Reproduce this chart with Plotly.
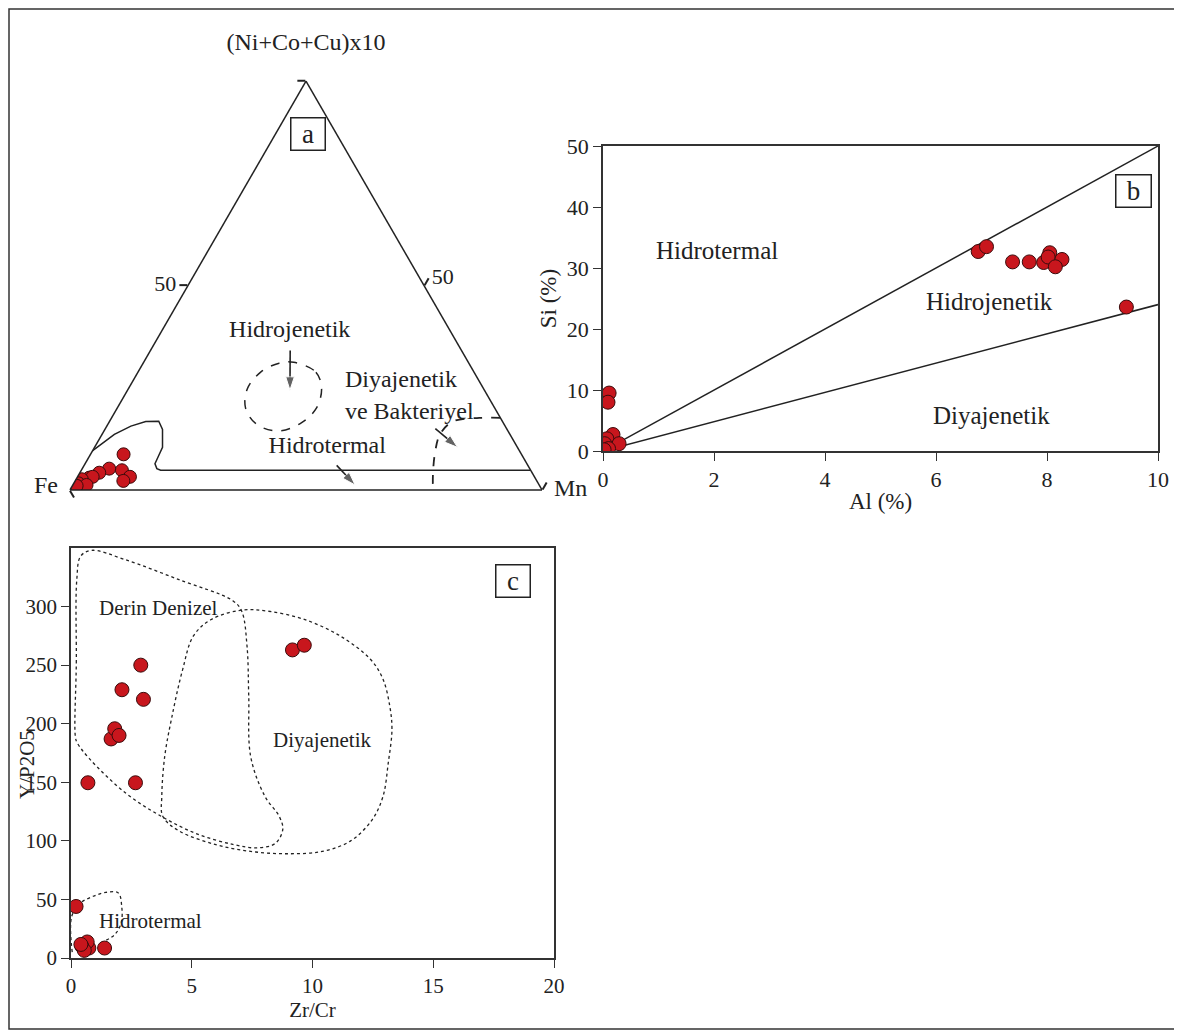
import plotly.graph_objects as go

# Figure size; the page adds an 8px body margin, so pixel targets are shifted by OFF.
FW, FH = 1174, 1025
OFF = 8
FONT = "Liberation Serif, Times New Roman, serif"
INK = "#222222"
RED = "#c8161d"
EDGE = "#3a0c0c"


def px_x(x):
    return (x - OFF) / FW


def px_y(y):
    return 1 - (y - OFF) / FH


# ---------------- Panel a : ternary (Ni+Co+Cu)x10 - Fe - Mn ----------------
tern_ncc = [8.7, 5.2, 4.2, 4.8, 3.2, 2.2, 3.0, 3.2, 2.6, 1.6, 1.2, 1.0]
tern_fe = [84.3, 89.1, 91.7, 86.6, 85.7, 87.6, 94.4, 93.6, 96.2, 97.4, 95.9, 98.1]
tern_mn = [7.0, 5.7, 4.1, 8.6, 11.1, 10.2, 2.6, 3.2, 1.2, 1.0, 2.9, 0.9]

hydro_ncc = [9.6, 13.6, 15.6, 16.7, 16.8, 14.8, 10.4, 8.4, 6.4, 5.2, 4.8, 4.8]
hydro_fe = [90.4, 83.8, 79.3, 75.6, 72.8, 73.0, 75.2, 77.0, 78.8, 79.0, 78.4, 0.0]
hydro_mn = [0.0, 2.6, 5.1, 7.7, 10.4, 12.2, 14.4, 14.6, 14.8, 15.8, 16.8, 95.2]

hgen_ncc = [31.2, 28.8, 24.8, 20.0, 16.4, 14.4, 16.0, 20.0, 24.8, 28.8, 31.0, 31.2]
hgen_fe = [37.0, 33.5, 34.3, 37.8, 42.8, 48.5, 52.4, 52.8, 50.0, 45.2, 40.2, 37.0]
hgen_mn = [31.8, 37.7, 40.9, 42.2, 40.8, 37.1, 31.6, 27.2, 25.2, 26.0, 28.8, 31.8]

diag_ncc = [17.6, 17.6, 16.7, 13.6, 9.6, 4.0, 0.0]
diag_fe = [0.0, 4.5, 10.6, 14.8, 17.8, 21.1, 23.1]
diag_mn = [82.4, 77.9, 72.7, 71.6, 72.6, 74.9, 76.9]

# arrows: [start, end]
arr_hgen = ([34.1, 24.4], [36.3, 41.2], [29.6, 34.4])
arr_hter = ([6.0, 1.2], [40.5, 39.0], [53.5, 59.8])
arr_diag = ([15.0, 10.4], [15.1, 12.7], [69.9, 76.9])

lab_a_text = ["Hidrojenetik", "Hidrotermal"]
lab_a_ncc = [38.9, 10.4]
lab_a_fe = [34.0, 40.3]
lab_a_mn = [27.1, 49.3]
lab_diag = ([22.7], [30.4], [46.9])

# ---------------- Panel b : Al vs Si ----------------
al_vals = [6.76, 6.91, 7.38, 7.68, 7.94, 8.05, 8.02, 8.27, 8.15, 9.43,
           0.11, 0.09, 0.18, 0.07, 0.29, 0.03, 0.10, 0.02]
si_vals = [32.7, 33.5, 31.0, 31.0, 30.9, 32.5, 31.8, 31.4, 30.2, 23.6,
           9.5, 8.0, 2.7, 2.0, 1.2, 1.2, 0.4, 0.2]
line_al = [0, 10]
line1_si = [0, 50]
line2_si = [0, 24]
b_labels = ["Hidrotermal", "Hidrojenetik", "Diyajenetik"]
b_lab_x = [2.06, 6.97, 7.0]
b_lab_y = [32.9, 24.5, 5.85]

# ---------------- Panel c : Zr/Cr vs Y/P2O5 ----------------
zrcr = [0.21, 0.70, 2.67, 1.66, 1.81, 1.99, 2.11, 2.89, 3.0, 9.17, 9.66,
        1.39, 0.74, 0.67, 0.45, 0.55, 0.41]
yp2o5 = [44, 149.6, 149.6, 187, 195.7, 190, 229, 250, 220.8, 263, 267,
         8.5, 8.5, 13.7, 10, 6.5, 11.6]

deep_x = [0.18, 0.22, 0.24, 0.40, 0.85, 2.25, 4.47, 6.7, 7.07, 7.29, 7.36, 7.44,
          8.03, 8.62, 8.77, 8.47, 7.73, 6.7, 5.21, 3.73, 2.25, 0.77, 0.25, 0.18]
deep_y = [189, 252, 323, 343, 348, 340, 323, 305, 296, 266, 224, 172,
          138, 121, 110, 98, 94, 97, 106, 121, 141, 170, 184, 189]
diag_x = [7.07, 8.18, 9.66, 11.14, 12.4, 12.92, 13.2, 13.29, 13.14, 12.92, 12.47,
          11.58, 10.4, 8.92, 7.44, 5.96, 4.47, 3.8, 3.76, 3.88, 4.18, 4.62, 5.07, 5.81, 7.07]
diag_y = [297, 296, 289, 275, 255, 238, 215, 195, 167, 138, 118,
          100, 91, 89, 91, 97, 108.5, 121, 138, 172, 206, 246, 275, 289, 297]
hterm_x = [0.05, 0.03, 0.4, 0.92, 1.44, 1.96, 2.1, 2.08, 1.81, 1.36]
hterm_y = [5, 35.5, 47, 52.7, 56, 55.5, 44, 30, 20, 14.2]
c_labels = ["Derin Denizel", "Diyajenetik", "Hidrotermal"]
c_lab_x = [3.62, 10.4, 3.29]
c_lab_y = [299, 186, 31.3]

fig = go.Figure()

# ---- ternary traces
fig.add_trace(go.Scatterternary(a=hydro_ncc, b=hydro_fe, c=hydro_mn, mode="lines",
                                line=dict(color=INK, width=1.5), showlegend=False, hoverinfo="skip"))
fig.add_trace(go.Scatterternary(a=hgen_ncc, b=hgen_fe, c=hgen_mn, mode="lines",
                                line=dict(color=INK, width=1.5, dash="dash", shape="spline"),
                                showlegend=False, hoverinfo="skip"))
fig.add_trace(go.Scatterternary(a=diag_ncc, b=diag_fe, c=diag_mn, mode="lines",
                                line=dict(color=INK, width=1.8, dash="dash", shape="spline"),
                                showlegend=False, hoverinfo="skip"))
for arr in (arr_hgen, arr_hter, arr_diag):
    fig.add_trace(go.Scatterternary(a=arr[0], b=arr[1], c=arr[2], mode="lines+markers",
                                    line=dict(color=INK, width=1.6),
                                    marker=dict(symbol=["circle", "arrow"], size=[0, 14],
                                                angleref="previous", color=INK),
                                    showlegend=False, hoverinfo="skip"))
fig.add_trace(go.Scatterternary(a=lab_a_ncc, b=lab_a_fe, c=lab_a_mn, mode="text",
                                text=lab_a_text, textposition="middle center",
                                textfont=dict(family=FONT, size=24, color=INK),
                                showlegend=False, hoverinfo="skip"))
fig.add_trace(go.Scatterternary(a=lab_diag[0], b=lab_diag[1], c=lab_diag[2], mode="text",
                                text=["Diyajenetik<br>ve Bakteriyel"], textposition="middle right",
                                textfont=dict(family=FONT, size=24, color=INK),
                                showlegend=False, hoverinfo="skip"))
fig.add_trace(go.Scatterternary(a=tern_ncc, b=tern_fe, c=tern_mn, mode="markers",
                                marker=dict(size=13, color=RED, line=dict(color=EDGE, width=1)),
                                showlegend=False))

# ---- panel b traces
for ys in (line1_si, line2_si):
    fig.add_trace(go.Scatter(x=line_al, y=ys, mode="lines", line=dict(color=INK, width=1.5),
                             xaxis="x2", yaxis="y2", showlegend=False, hoverinfo="skip"))
fig.add_trace(go.Scatter(x=al_vals, y=si_vals, mode="markers", xaxis="x2", yaxis="y2",
                         marker=dict(size=14, color=RED, line=dict(color=EDGE, width=1)),
                         showlegend=False))

# ---- panel c traces
for xs, ys in ((deep_x, deep_y), (diag_x, diag_y), (hterm_x, hterm_y)):
    fig.add_trace(go.Scatter(x=xs, y=ys, mode="lines", xaxis="x3", yaxis="y3",
                             line=dict(color=INK, width=1.3, dash="dot", shape="spline"),
                             showlegend=False, hoverinfo="skip"))
fig.add_trace(go.Scatter(x=zrcr, y=yp2o5, mode="markers", xaxis="x3", yaxis="y3",
                         marker=dict(size=14, color=RED, line=dict(color=EDGE, width=1)),
                         showlegend=False))

tern_axis = dict(linecolor=INK, linewidth=1.5, showgrid=False, ticks="outside", ticklen=8,
                 tickcolor=INK, tickwidth=1.5, tickfont=dict(family=FONT, size=22, color=INK),
                 min=0)

cart_axis = dict(showline=True, mirror=True, linecolor="#333333", linewidth=1.6,
                 ticks="outside", ticklen=8, tickwidth=1.4, tickcolor="#333333",
                 showgrid=False, zeroline=False, automargin=False)

annotations = []
for t, x, y in zip(b_labels, b_lab_x, b_lab_y):
    annotations.append(dict(text=t, x=x, y=y, xref="x2", yref="y2", showarrow=False,
                            xanchor="center", yanchor="middle",
                            font=dict(family=FONT, size=25, color=INK)))
for t, x, y in zip(c_labels, c_lab_x, c_lab_y):
    annotations.append(dict(text=t, x=x, y=y, xref="x3", yref="y3", showarrow=False,
                            xanchor="center", yanchor="middle",
                            font=dict(family=FONT, size=21, color=INK)))
box = dict(showarrow=False, xanchor="center", yanchor="middle", bordercolor=INK,
           borderwidth=1.5, borderpad=0, font=dict(family=FONT, size=27, color=INK))
annotations.append(dict(box, text="a", x=px_x(308), y=px_y(134), xref="paper", yref="paper",
                        width=33, height=31))
annotations.append(dict(box, text="b", x=9.56, y=42.6, xref="x2", yref="y2", width=34, height=31))
annotations.append(dict(box, text="c", x=18.3, y=322, xref="x3", yref="y3", width=33, height=31))
annotations.append(dict(text="Fe", x=px_x(46), y=px_y(485), xref="paper", yref="paper",
                        xanchor="center", yanchor="middle", showarrow=False,
                        font=dict(family=FONT, size=24, color=INK)))
annotations.append(dict(text="Mn", x=px_x(570), y=px_y(488), xref="paper", yref="paper",
                        xanchor="center", yanchor="middle", showarrow=False,
                        font=dict(family=FONT, size=24, color=INK)))
annotations.append(dict(text="Y/P2O5", x=px_x(27), y=px_y(765), xref="paper", yref="paper",
                        xanchor="center", yanchor="middle", showarrow=False, textangle=-90,
                        font=dict(family=FONT, size=21, color=INK)))

fig.update_layout(
    width=FW, height=FH,
    margin=dict(l=0, r=0, t=0, b=0, autoexpand=False),
    paper_bgcolor="white", plot_bgcolor="white",
    font=dict(family=FONT, color=INK),
    ternary=dict(
        sum=100,
        domain=dict(x=[px_x(70), px_x(542)], y=[px_y(490), px_y(81)]),
        bgcolor="rgba(0,0,0,0)",
        aaxis=dict(tern_axis, title=dict(text="(Ni+Co+Cu)x10", font=dict(family=FONT, size=24)),
                   tickmode="array", tickvals=[50, 100], ticktext=["50", ""]),
        baxis=dict(tern_axis, title=dict(text=""), tickmode="array", tickvals=[100], ticktext=[""]),
        caxis=dict(tern_axis, title=dict(text=""), tickmode="array", tickvals=[50, 100],
                   ticktext=["50", ""]),
    ),
    xaxis2=dict(cart_axis, domain=[px_x(603), px_x(1158)], anchor="y2", range=[0, 10], dtick=2,
                tickfont=dict(family=FONT, size=22),
                title=dict(text="Al (%)", font=dict(family=FONT, size=23), standoff=2)),
    yaxis2=dict(cart_axis, domain=[px_y(451), px_y(146)], anchor="x2", range=[0, 50], dtick=10,
                tickfont=dict(family=FONT, size=22),
                title=dict(text="Si (%)", font=dict(family=FONT, size=23), standoff=4)),
    xaxis3=dict(cart_axis, domain=[px_x(71), px_x(554)], anchor="y3", range=[0, 20], dtick=5,
                tickfont=dict(family=FONT, size=21),
                title=dict(text="Zr/Cr", font=dict(family=FONT, size=21), standoff=2)),
    yaxis3=dict(cart_axis, domain=[px_y(958), px_y(548)], anchor="x3", range=[0, 350],
                tickmode="array", tickvals=[0, 50, 100, 150, 200, 250, 300],
                tickfont=dict(family=FONT, size=21)),
    annotations=annotations,
    shapes=[dict(type="rect", xref="paper", yref="paper", x0=px_x(9), x1=px_x(1179),
                 y0=px_y(1029), y1=px_y(9), line=dict(color="#333333", width=1.5))],
)

fig.write_html("out.html")
